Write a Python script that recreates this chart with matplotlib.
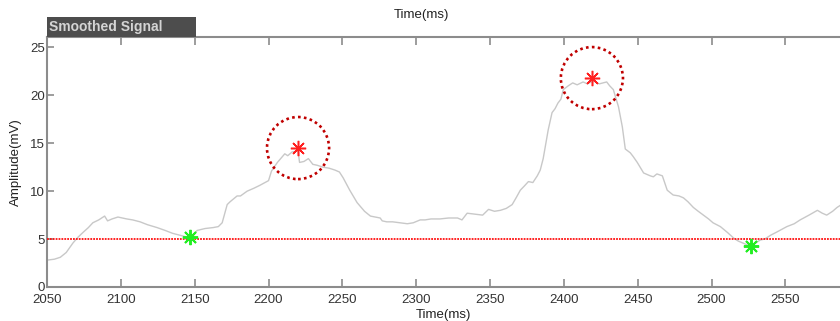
import matplotlib
matplotlib.use("Agg")
import matplotlib.pyplot as plt
from matplotlib.patches import Rectangle

plt.rcParams['font.family'] = ['Liberation Sans', 'DejaVu Sans']

# Smoothed amplitude trace (ms, mV)
time_ms = [2050, 2055, 2059, 2063, 2067.6, 2071, 2074.4, 2078, 2081, 2085, 2089, 2091,
           2094, 2098, 2104, 2108, 2113, 2118, 2124.5, 2130, 2135, 2140, 2145, 2148,
           2151.6, 2157, 2162.5, 2166, 2168.6, 2170.6, 2172, 2174, 2178.7, 2181,
           2185.5, 2190, 2194, 2200, 2202, 2206, 2211, 2213, 2216, 2220, 2221, 2224,
           2227, 2230, 2233, 2237, 2241, 2245, 2248, 2250.5, 2255, 2260, 2265, 2269,
           2275.6, 2277, 2280, 2284, 2289, 2294, 2298, 2302.7, 2306, 2310, 2316, 2322,
           2328, 2331, 2334.5, 2340, 2345, 2349, 2353, 2357, 2361, 2365, 2368, 2370.5,
           2373, 2376, 2379, 2382, 2384, 2386, 2387, 2389.4, 2392, 2394, 2396, 2398,
           2399.6, 2403, 2406, 2409, 2413, 2416, 2420, 2424, 2429, 2431, 2433.5, 2437,
           2439.6, 2441.6, 2445, 2447, 2449.7, 2452, 2454, 2458.5, 2460.6, 2463, 2466.7,
           2470, 2474, 2478, 2481, 2484, 2487.7, 2491, 2494.5, 2498, 2501, 2506, 2510.7,
           2515, 2518, 2521, 2524, 2527, 2530, 2533, 2536, 2540, 2545, 2551, 2556, 2560,
           2566, 2571.7, 2575, 2578, 2582, 2585, 2588]
amplitude = [2.8, 2.9, 3.1, 3.6, 4.6, 5.2, 5.7, 6.2, 6.7, 7.0, 7.4, 6.9,
             7.1, 7.3, 7.1, 7.0, 6.8, 6.5, 6.2, 5.9, 5.6, 5.4, 5.2, 5.1,
             5.9, 6.1, 6.2, 6.3, 6.7, 7.8, 8.6, 8.9, 9.5, 9.5,
             10.0, 10.3, 10.6, 11.1, 12.1, 13.0, 13.9, 13.7, 14.1, 14.2, 13.0, 13.1,
             13.4, 12.8, 12.7, 12.5, 12.4, 12.2, 12.0, 11.4, 10.1, 8.8, 7.9, 7.4,
             7.2, 6.9, 6.8, 6.8, 6.7, 6.6, 6.7, 7.0, 7.0, 7.1, 7.1, 7.2,
             7.2, 7.0, 7.7, 7.6, 7.5, 8.1, 7.9, 8.0, 8.2, 8.6, 9.4, 10.1,
             10.5, 11.0, 10.9, 11.6, 12.2, 13.4, 14.3, 16.4, 18.2, 18.6, 19.2, 19.6,
             20.6, 21.0, 21.3, 21.1, 21.4, 21.2, 21.5, 21.2, 21.4, 21.0, 20.6, 18.8,
             16.7, 14.4, 14.0, 13.6, 13.0, 12.4, 11.9, 11.6, 11.5, 11.8, 11.6,
             10.1, 9.6, 9.5, 9.3, 8.9, 8.3, 7.9, 7.5, 7.1, 6.7, 6.3, 5.7,
             5.1, 4.8, 4.6, 4.4, 4.3, 4.6, 4.9, 5.0, 5.4, 5.8, 6.3, 6.6, 7.0,
             7.5, 8.0, 7.7, 7.5, 7.9, 8.3, 8.6]

threshold = 5.0
peak_time = [2220, 2419]
peak_amp = [14.5, 21.8]
onset_time = [2147, 2527]
onset_amp = [5.2, 4.3]

xticks = [2050, 2100, 2150, 2200, 2250, 2300, 2350, 2400, 2450, 2500, 2550]
yticks = [0, 5, 10, 15, 20, 25]

fig = plt.figure(figsize=(8.4, 3.21), dpi=100)
ax = fig.add_axes([0.056, 0.106, 0.944, 0.779])

ax.plot(time_ms, amplitude, color='#c8c8c8', lw=1.0, zorder=2)
ax.axhline(threshold, color='#ff1010', lw=1.3, linestyle=(0, (1, 0.6)), zorder=3)

ax.plot(onset_time, onset_amp, linestyle='none', marker=(8, 2, 0), markersize=11,
        markeredgecolor='#22ee22', markeredgewidth=1.4, zorder=5)
ax.plot(peak_time, peak_amp, linestyle='none', marker=(8, 2, 0), markersize=11,
        markeredgecolor='#ff2020', markeredgewidth=1.1, zorder=5)
ax.scatter(peak_time, peak_amp, s=2000, facecolors='none', edgecolors='#c00000',
           linewidths=1.9, linestyles=(0, (1, 1.25)), zorder=4)

ax.set_xlim(2050, 2587)
ax.set_ylim(0, 26.1)
ax.set_xticks(xticks)
ax.set_yticks(yticks)

spine_col = '#8c8c8c'
for side in ['left', 'bottom', 'top']:
    ax.spines[side].set_color(spine_col)
    ax.spines[side].set_linewidth(1.5)
ax.spines['right'].set_visible(False)

ax.tick_params(axis='x', direction='in', top=True, bottom=True, length=6, width=1.2,
               color=spine_col, labelsize=9.5, labelcolor='#333333', pad=5)
ax.tick_params(axis='y', direction='in', left=True, length=5, width=1.2,
               color=spine_col, labelsize=9.5, labelcolor='#333333', pad=1.5)

ax.set_xlabel('Time(ms)', fontsize=9.5, color='#222222', labelpad=2)
ax.set_ylabel('Amplitude(mV)', fontsize=9.5, color='#222222', labelpad=6)
fig.text(0.502, 0.953, 'Time(ms)', ha='center', va='center', fontsize=9.5, color='#222222')

# Header tab above the axes
fig.patches.append(Rectangle((0.056, 0.885), (196 - 47) / 840, 20 / 321,
                             transform=fig.transFigure, facecolor='#4d4d4d',
                             edgecolor='none', zorder=1))
fig.text(0.058, 0.916, 'Smoothed Signal', ha='left', va='center', fontsize=10,
         fontweight='bold', color='#d4d4d4')

fig.savefig('out.png', dpi=100)
